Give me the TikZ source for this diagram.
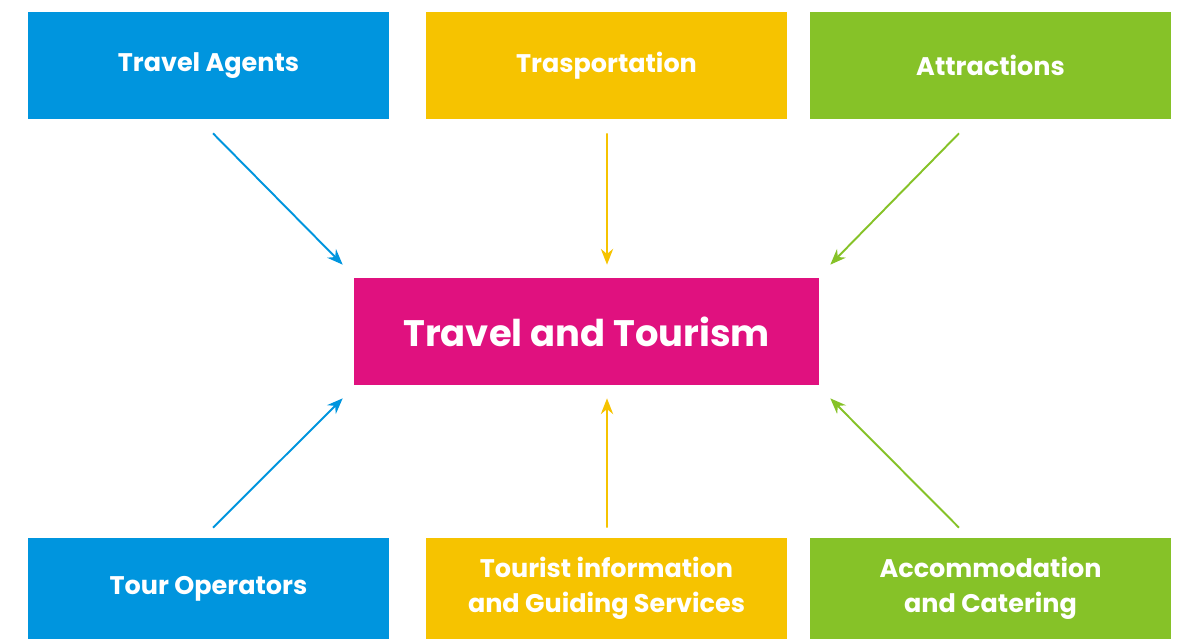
\documentclass[tikz,border=0pt]{standalone}
\usepackage{fontspec}
\setmainfont{Poppins}
\usetikzlibrary{arrows.meta}
\definecolor{tablue}{RGB}{0,149,222}
\definecolor{tayellow}{RGB}{246,195,0}
\definecolor{tagreen}{RGB}{134,194,40}
\definecolor{tamagenta}{RGB}{224,17,127}
\tikzset{box/.style={draw=none, text=white, font=\bfseries\fontsize{14.5}{20}\selectfont, align=center, minimum width=7.22cm, minimum height=2.14cm, inner sep=0pt},
  link/.style={line width=1.1pt, -{Stealth[length=9pt,width=7pt]}}}

\begin{document}
\begin{tikzpicture}[x=0.02cm,y=-0.02cm]
  \useasboundingbox (0,0) rectangle (1179,639);
  % top row
  \node[box,fill=tablue]   (ta) at (208.5,65.5) {Travel Agents};
  \node[box,fill=tayellow] (tp) at (606.5,65.5) {Trasportation};
  \node[box,fill=tagreen]  (at) at (990.5,65.5) {Attractions};
  % centre
  \node[box,fill=tamagenta,minimum width=9.3cm,font=\bfseries\fontsize{21}{25}\selectfont] (tt) at (586.5,331.5) {Travel and Tourism};
  % bottom row
  \node[box,fill=tablue,minimum height=2.02cm]   (to) at (208.5,588.5) {Tour Operators};
  \node[box,fill=tayellow,minimum height=2.02cm] (ti) at (606.5,588.5) {Tourist information\\and Guiding Services};
  \node[box,fill=tagreen,minimum height=2.02cm]  (ac) at (990.5,588.5) {Accommodation\\and Catering};
  % arrows
  \draw[link,tablue]   ([xshift=0.09cm,yshift=-0.28cm]ta.south) -- ([xshift=-0.22cm,yshift=0.26cm]tt.north west);
  \draw[link,tayellow] ([xshift=0.01cm,yshift=-0.28cm]tp.south) -- ([xshift=0.41cm,yshift=0.26cm]tt.north);
  \draw[link,tagreen]  ([xshift=-0.63cm,yshift=-0.28cm]at.south) -- ([xshift=0.22cm,yshift=0.26cm]tt.north east);
  \draw[link,tablue]   ([xshift=0.09cm,yshift=0.2cm]to.north) -- ([xshift=-0.22cm,yshift=-0.26cm]tt.south west);
  \draw[link,tayellow] ([xshift=0.01cm,yshift=0.2cm]ti.north) -- ([xshift=0.41cm,yshift=-0.26cm]tt.south);
  \draw[link,tagreen]  ([xshift=-0.63cm,yshift=0.2cm]ac.north) -- ([xshift=0.22cm,yshift=-0.26cm]tt.south east);
\end{tikzpicture}
\end{document}
